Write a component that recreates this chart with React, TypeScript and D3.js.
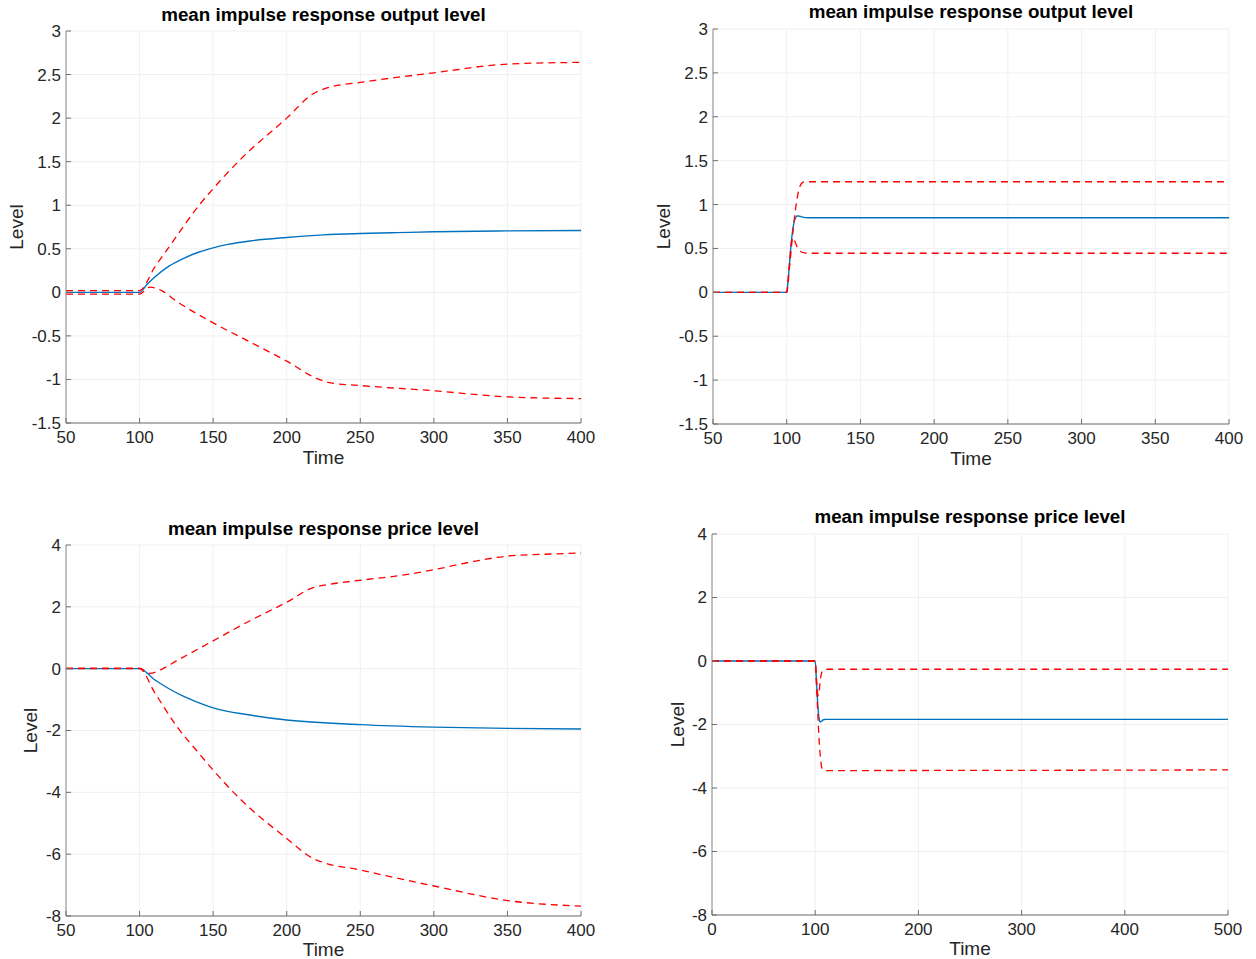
import React from "react";
import * as d3 from "d3";

// ---- Data ----
// Panel 1: mean impulse response output level (left)
const p1Time = [50, 100, 105, 110, 120, 130, 140, 150, 160, 175, 200, 225, 250, 275, 300, 350, 400];
const p1Mean = [0, 0, 0.09, 0.17, 0.3, 0.39, 0.46, 0.51, 0.55, 0.59, 0.63, 0.66, 0.675, 0.685, 0.695, 0.705, 0.71];
const p1UpperTime = [50, 100, 110, 120, 130, 140, 150, 170, 200, 218, 228, 250, 300, 350, 400];
const p1Upper = [0.02, 0.02, 0.28, 0.52, 0.76, 0.99, 1.19, 1.55, 2.0, 2.28, 2.35, 2.41, 2.52, 2.62, 2.64];
const p1LowerTime = [50, 100, 107, 115, 125, 150, 175, 200, 222, 230, 250, 300, 350, 400];
const p1Lower = [-0.02, -0.02, 0.06, 0.02, -0.1, -0.35, -0.57, -0.79, -1.0, -1.04, -1.07, -1.13, -1.2, -1.22];

// Panel 2: mean impulse response output level (right)
const p2Time = [50, 100, 101, 102, 103, 104, 105, 106, 107, 108, 110, 115, 400];
const p2Mean = [0, 0, 0.15, 0.35, 0.55, 0.7, 0.8, 0.85, 0.87, 0.87, 0.86, 0.85, 0.85];
const p2UpperTime = [50, 100, 102, 104, 106, 108, 110, 112, 400];
const p2Upper = [0, 0, 0.3, 0.65, 0.95, 1.15, 1.24, 1.26, 1.26];
const p2LowerTime = [50, 100, 101, 102, 103, 104, 105, 107, 109, 112, 115, 400];
const p2Lower = [0, 0, 0.15, 0.35, 0.55, 0.62, 0.6, 0.52, 0.47, 0.45, 0.445, 0.445];

// Panel 3: mean impulse response price level (left)
const p3Time = [50, 100, 110, 120, 130, 140, 150, 175, 200, 250, 300, 350, 400];
const p3Mean = [0, 0, -0.35, -0.65, -0.9, -1.1, -1.27, -1.5, -1.66, -1.81, -1.89, -1.93, -1.95];
const p3UpperTime = [50, 100, 107, 115, 125, 150, 175, 200, 218, 228, 250, 275, 300, 325, 350, 375, 400];
const p3Upper = [0.02, 0.02, -0.15, -0.02, 0.25, 0.9, 1.55, 2.15, 2.62, 2.72, 2.86, 3.0, 3.2, 3.45, 3.64, 3.7, 3.74];
const p3LowerTime = [50, 100, 110, 125, 140, 150, 168, 200, 218, 227, 250, 263, 300, 350, 400];
const p3Lower = [0, 0, -0.75, -1.85, -2.72, -3.28, -4.2, -5.49, -6.14, -6.3, -6.51, -6.65, -7.03, -7.5, -7.68];

// Panel 4: mean impulse response price level (right)
const p4Time = [0, 100, 101, 102, 103, 104, 105, 106, 108, 110, 500];
const p4Mean = [0, 0, -0.5, -1.1, -1.6, -1.85, -1.92, -1.9, -1.85, -1.84, -1.84];
const p4UpperTime = [0, 100, 101, 102, 103, 104, 105, 106, 108, 112, 500];
const p4Upper = [0, 0, -0.45, -0.9, -1.1, -0.9, -0.6, -0.4, -0.28, -0.26, -0.26];
const p4LowerTime = [0, 100, 101, 102, 103, 104, 105, 106, 107, 109, 500];
const p4Lower = [0, 0, -0.6, -1.3, -2.0, -2.6, -3.0, -3.3, -3.42, -3.45, -3.43];

const yTicksOutput = [-1.5, -1, -0.5, 0, 0.5, 1, 1.5, 2, 2.5, 3];
const yTicksPrice = [-8, -6, -4, -2, 0, 2, 4];
const xTicks50 = [50, 100, 150, 200, 250, 300, 350, 400];
const xTicks0 = [0, 100, 200, 300, 400, 500];

const titleOutput = "mean impulse response output level";
const titlePrice = "mean impulse response price level";

type Series = { t: number[]; v: number[] };

interface PanelProps {
  left: number;
  right: number;
  top: number;
  bottom: number;
  xDomain: [number, number];
  yDomain: [number, number];
  xTicks: number[];
  yTicks: number[];
  title: string;
  titleY: number;
  xLabelY: number;
  yLabelX: number;
  mean: Series;
  upper: Series;
  lower: Series;
}

const FONT = "'Liberation Sans', Arial, Helvetica, sans-serif";

function Panel(p: PanelProps) {
  const x = d3.scaleLinear().domain(p.xDomain).range([p.left, p.right]);
  const y = d3.scaleLinear().domain(p.yDomain).range([p.bottom, p.top]);
  const line = d3
    .line<[number, number]>()
    .x((d) => x(d[0]))
    .y((d) => y(d[1]))
    .curve(d3.curveMonotoneX);
  const pts = (s: Series) => s.t.map((t, i) => [t, s.v[i]] as [number, number]);
  const cx = (p.left + p.right) / 2;
  const cy = (p.top + p.bottom) / 2;
  const fmt = (v: number) => String(v);
  return (
    <g>
      {/* grid */}
      {p.xTicks.map((t) => (
        <line key={"gx" + t} x1={x(t)} x2={x(t)} y1={p.top} y2={p.bottom} stroke="#f0f0f0" strokeWidth={1} />
      ))}
      {p.yTicks.map((t) => (
        <line key={"gy" + t} x1={p.left} x2={p.right} y1={y(t)} y2={y(t)} stroke="#f0f0f0" strokeWidth={1} />
      ))}
      {/* lines */}
      <path d={line(pts(p.mean)) || ""} fill="none" stroke="#0072bd" strokeWidth={1.4} />
      <path d={line(pts(p.upper)) || ""} fill="none" stroke="#ff0000" strokeWidth={1.3} strokeDasharray="7,5" />
      <path d={line(pts(p.lower)) || ""} fill="none" stroke="#ff0000" strokeWidth={1.3} strokeDasharray="7,5" />
      {/* axes */}
      <line x1={p.left} x2={p.left} y1={p.top} y2={p.bottom} stroke="#8a8a8a" strokeWidth={1} />
      <line x1={p.left} x2={p.right} y1={p.bottom} y2={p.bottom} stroke="#6e6e6e" strokeWidth={1} />
      {p.yTicks.map((t) => (
        <g key={"yt" + t}>
          <line x1={p.left} x2={p.left + 5} y1={y(t)} y2={y(t)} stroke="#6e6e6e" strokeWidth={1} />
          <text x={p.left - 5} y={y(t)} dy="0.35em" textAnchor="end" fontSize={17} fill="#262626" fontFamily={FONT}>
            {fmt(t)}
          </text>
        </g>
      ))}
      {p.xTicks.map((t) => (
        <g key={"xt" + t}>
          <line x1={x(t)} x2={x(t)} y1={p.bottom} y2={p.bottom - 5} stroke="#6e6e6e" strokeWidth={1} />
          <text x={x(t)} y={p.bottom + 20} textAnchor="middle" fontSize={17} fill="#262626" fontFamily={FONT}>
            {fmt(t)}
          </text>
        </g>
      ))}
      <text x={cx} y={p.xLabelY} textAnchor="middle" fontSize={19} fill="#262626" fontFamily={FONT}>
        Time
      </text>
      <text
        transform={`translate(${p.yLabelX},${cy}) rotate(-90)`}
        textAnchor="middle"
        fontSize={19}
        fill="#262626"
        fontFamily={FONT}
      >
        Level
      </text>
      <text x={cx} y={p.titleY} textAnchor="middle" fontSize={18.8} fontWeight="bold" fill="#000" fontFamily={FONT}>
        {p.title}
      </text>
    </g>
  );
}

export default function App() {
  return (
    <svg
      width={1256}
      height={959}
      style={{ position: "absolute", left: 0, top: 0, display: "block", background: "#fff" }}
    >
      <rect x={0} y={0} width={1256} height={959} fill="#fff" />
      <Panel
        left={66}
        right={581}
        top={31}
        bottom={423}
        xDomain={[50, 400]}
        yDomain={[-1.5, 3]}
        xTicks={xTicks50}
        yTicks={yTicksOutput}
        title={titleOutput}
        titleY={21}
        xLabelY={464}
        yLabelX={23}
        mean={{ t: p1Time, v: p1Mean }}
        upper={{ t: p1UpperTime, v: p1Upper }}
        lower={{ t: p1LowerTime, v: p1Lower }}
      />
      <Panel
        left={713}
        right={1229}
        top={29}
        bottom={424}
        xDomain={[50, 400]}
        yDomain={[-1.5, 3]}
        xTicks={xTicks50}
        yTicks={yTicksOutput}
        title={titleOutput}
        titleY={18}
        xLabelY={465}
        yLabelX={670}
        mean={{ t: p2Time, v: p2Mean }}
        upper={{ t: p2UpperTime, v: p2Upper }}
        lower={{ t: p2LowerTime, v: p2Lower }}
      />
      <Panel
        left={66}
        right={581}
        top={545}
        bottom={916}
        xDomain={[50, 400]}
        yDomain={[-8, 4]}
        xTicks={xTicks50}
        yTicks={yTicksPrice}
        title={titlePrice}
        titleY={535}
        xLabelY={956}
        yLabelX={37}
        mean={{ t: p3Time, v: p3Mean }}
        upper={{ t: p3UpperTime, v: p3Upper }}
        lower={{ t: p3LowerTime, v: p3Lower }}
      />
      <Panel
        left={712}
        right={1228}
        top={534}
        bottom={915}
        xDomain={[0, 500]}
        yDomain={[-8, 4]}
        xTicks={xTicks0}
        yTicks={yTicksPrice}
        title={titlePrice}
        titleY={523}
        xLabelY={955}
        yLabelX={684}
        mean={{ t: p4Time, v: p4Mean }}
        upper={{ t: p4UpperTime, v: p4Upper }}
        lower={{ t: p4LowerTime, v: p4Lower }}
      />
    </svg>
  );
}
